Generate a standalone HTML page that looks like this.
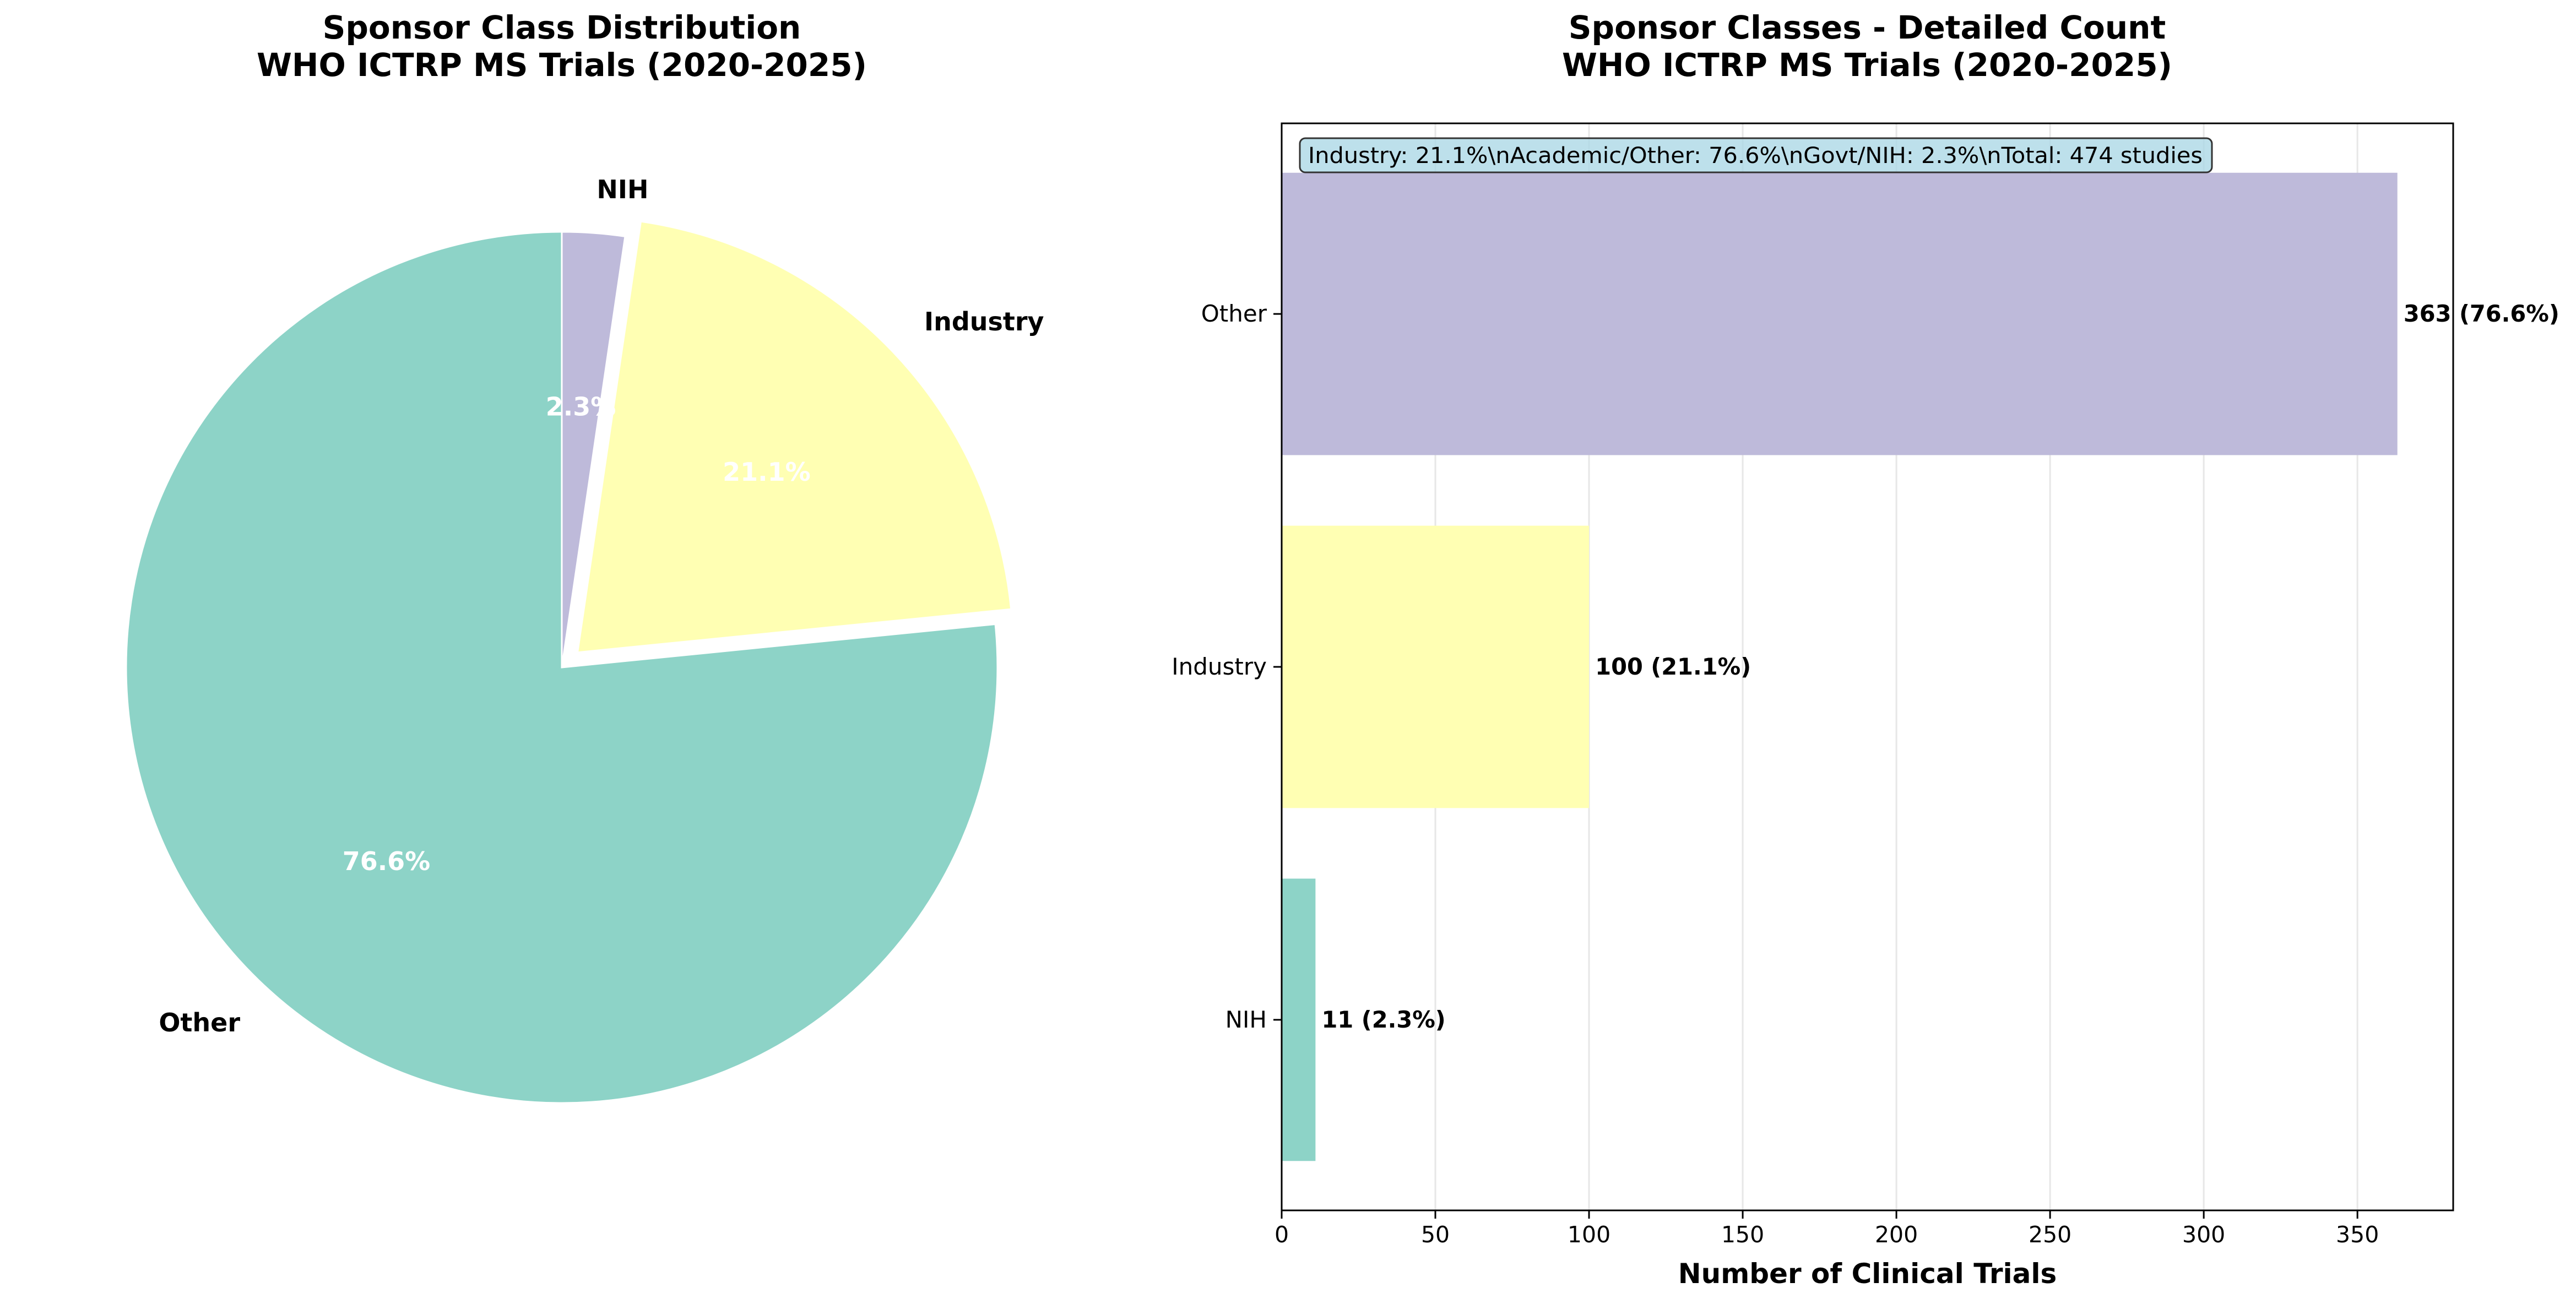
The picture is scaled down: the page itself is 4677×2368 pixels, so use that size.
<!DOCTYPE html>
<html><head><meta charset="utf-8"><style>
html,body{margin:0;padding:0;background:#fff;}
svg{display:block;font-family:"DejaVu Sans","Liberation Sans",sans-serif;}
</style></head><body>
<svg id="fig" width="4677" height="2368" viewBox="0 0 4677 2368" xmlns="http://www.w3.org/2000/svg">
<rect width="4677" height="2368" fill="#fff"/>
<text x="1020" y="70" font-size="58" font-weight="bold" text-anchor="middle">Sponsor Class Distribution</text>
<text x="1020" y="138" font-size="58" font-weight="bold" text-anchor="middle">WHO ICTRP MS Trials (2020-2025)</text>
<text x="3390" y="70" font-size="58" font-weight="bold" text-anchor="middle">Sponsor Classes - Detailed Count</text>
<text x="3390" y="138" font-size="58" font-weight="bold" text-anchor="middle">WHO ICTRP MS Trials (2020-2025)</text>
<g id="pie"></g>
<g id="pielabels"></g>
<g id="bars"></g>
</svg>
<script>
const categories = ["NIH", "Industry", "Other"];
const counts = [11, 100, 363];
const colors = ["#bebada", "#ffffb3", "#8dd3c7"];
const explode = [0, 0.05, 0];
const xTicks = [0, 50, 100, 150, 200, 250, 300, 350];
const boxText = "Industry: 21.1%\\nAcademic/Other: 76.6%\\nGovt/NIH: 2.3%\\nTotal: 474 studies";

const NS = "http://www.w3.org/2000/svg";
function mk(tag, attrs, parent, txt){const e=document.createElementNS(NS,tag);for(const k in attrs)e.setAttribute(k,attrs[k]);if(txt!==undefined)e.textContent=txt;parent.appendChild(e);return e;}
const total = counts.reduce((a,b)=>a+b,0);

// Pie
const pie = document.getElementById('pie');
const pl = document.getElementById('pielabels');
const cx=1020, cy=1212, R=791;
let ang=90;
categories.forEach((c,i)=>{
  const frac=counts[i]/total, sweep=frac*360;
  const a0=ang, a1=ang-sweep, mid=(a0+a1)/2, mr=mid*Math.PI/180;
  const ox=cx+explode[i]*R*Math.cos(mr), oy=cy-explode[i]*R*Math.sin(mr);
  const r0=a0*Math.PI/180, r1=a1*Math.PI/180;
  const x0=ox+R*Math.cos(r0), y0=oy-R*Math.sin(r0), x1=ox+R*Math.cos(r1), y1=oy-R*Math.sin(r1);
  const large=sweep>180?1:0;
  const p=mk('path',{d:`M${ox},${oy} L${x0},${y0} A${R},${R} 0 ${large} 1 ${x1},${y1} Z`,fill:colors[i],stroke:'#fff','stroke-width':3},pie);
  
  
  const lx=ox+1.1*R*Math.cos(mr), ly=oy-1.1*R*Math.sin(mr);
  const t=mk('text',{x:lx,y:ly+16,'font-size':46,'font-weight':'bold','text-anchor':Math.cos(mr)>=0?'start':'end'},pl,c);
  
  
  const px=ox+0.6*R*Math.cos(mr), py=oy-0.6*R*Math.sin(mr);
  const pt=mk('text',{x:px,y:py+16,'font-size':46,'font-weight':'bold',fill:'#fff','text-anchor':'middle'},pl,(frac*100).toFixed(1)+'%');
  
  
  ang=a1;
});

// Bars
const g=document.getElementById('bars');
const L=2327, Rt=4454, T=224, B=2198;
const xmax=Math.max(...counts)*1.05;
const X=v=>L+v/xmax*(Rt-L);
const ymin=-0.54, ymaxv=2.54;
const Y=v=>B-(v-ymin)/(ymaxv-ymin)*(B-T);
xTicks.forEach(v=>{
  const gl=mk('line',{x1:X(v),x2:X(v),y1:T,y2:B,stroke:'#b0b0b0','stroke-opacity':0.3,'stroke-width':3},g);
  
  
  const tk=mk('line',{x1:X(v),x2:X(v),y1:B,y2:B+15,stroke:'#000','stroke-width':3},g);
  
  
  const tl=mk('text',{x:X(v),y:B+58,'font-size':41,'text-anchor':'middle'},g,String(v));
  
  
});
categories.forEach((c,i)=>{
  const r=mk('rect',{x:X(0),y:Y(i+0.4),width:X(counts[i])-X(0),height:Y(i-0.4)-Y(i+0.4),fill:colors[2-i]},g);
  
  
  const tk=mk('line',{x1:L-15,x2:L,y1:Y(i),y2:Y(i),stroke:'#000','stroke-width':3},g);
  
  
  const yl=mk('text',{x:L-27,y:Y(i)+14,'font-size':42,'text-anchor':'end'},g,c);
  
  
  const vl=mk('text',{x:X(counts[i]+2),y:Y(i)+14,'font-size':41.5,'font-weight':'bold'},g,counts[i]+' ('+(counts[i]/total*100).toFixed(1)+'%)');
  
  
});
const frame=mk('rect',{x:L,y:T,width:Rt-L,height:B-T,fill:'none',stroke:'#000','stroke-width':3},g);


const box=mk('rect',{x:2360,y:251,width:1656,height:62,rx:10,fill:'#add8e6','fill-opacity':0.8,stroke:'#333','stroke-width':3},g);


const bt=mk('text',{x:2375,y:296,'font-size':40,textLength:1624,lengthAdjust:'spacingAndGlyphs'},g,boxText);


const xl=mk('text',{x:(L+Rt)/2,y:2330,'font-size':50,'font-weight':'bold','text-anchor':'middle'},g,'Number of Clinical Trials');


</script>
</body></html>
